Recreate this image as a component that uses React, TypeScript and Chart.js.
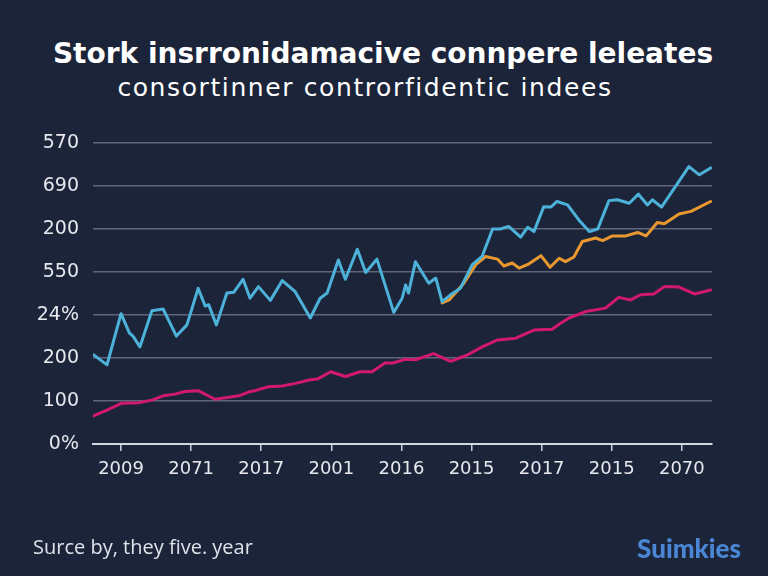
import React, { useEffect, useRef } from "react";
import { Chart, registerables } from "chart.js";

Chart.register(...registerables);

const titleLine1 = "Stork insrronidamacive connpere leleates";
const titleLine2 = "consortinner controrfidentic indees";
const sourceText = "Surce by, they five. year";
const brandText = "Suimkies";

const xLabels = ["2009", "2071", "2017", "2001", "2016", "2015", "2017", "2015", "2070"];
const yLabels = ["0%", "100", "200", "24%", "550", "200", "690", "570"];

// x positions are in tick-label units (0 = first label), y in gridline units
const blueX = [-0.39, -0.2, 0.0, 0.12, 0.17, 0.27, 0.44, 0.6, 0.79, 0.94, 1.1, 1.2, 1.25, 1.36, 1.51, 1.61, 1.74, 1.84, 1.96, 2.13, 2.3, 2.48, 2.7, 2.84, 2.94, 3.1, 3.2, 3.37, 3.49, 3.65, 3.89, 4.01, 4.06, 4.1, 4.2, 4.39, 4.49, 4.58, 4.7, 4.84, 5.01, 5.15, 5.3, 5.41, 5.53, 5.7, 5.8, 5.89, 6.03, 6.13, 6.22, 6.37, 6.53, 6.68, 6.8, 6.96, 7.08, 7.25, 7.38, 7.51, 7.58, 7.71, 7.91, 8.1, 8.25, 8.41];
const blueY = [2.07, 1.84, 3.03, 2.58, 2.51, 2.26, 3.1, 3.14, 2.51, 2.77, 3.62, 3.21, 3.24, 2.77, 3.51, 3.53, 3.83, 3.39, 3.66, 3.34, 3.8, 3.55, 2.93, 3.39, 3.51, 4.28, 3.83, 4.53, 3.99, 4.3, 3.06, 3.39, 3.7, 3.51, 4.24, 3.74, 3.86, 3.31, 3.47, 3.62, 4.17, 4.36, 5.0, 5.0, 5.06, 4.81, 5.04, 4.94, 5.52, 5.51, 5.64, 5.56, 5.21, 4.94, 5.0, 5.66, 5.68, 5.6, 5.81, 5.56, 5.68, 5.51, 5.99, 6.45, 6.26, 6.42];

const orangeX = [4.58, 4.68, 4.89, 5.06, 5.2, 5.37, 5.46, 5.58, 5.68, 5.82, 5.99, 6.12, 6.25, 6.34, 6.46, 6.58, 6.77, 6.87, 7.01, 7.2, 7.37, 7.49, 7.65, 7.75, 7.96, 8.13, 8.41];
const orangeY = [3.28, 3.35, 3.74, 4.17, 4.36, 4.3, 4.14, 4.21, 4.09, 4.19, 4.38, 4.11, 4.32, 4.24, 4.35, 4.71, 4.79, 4.73, 4.84, 4.84, 4.92, 4.84, 5.15, 5.12, 5.35, 5.41, 5.64];

const magentaX = [-0.4, -0.2, 0.01, 0.25, 0.44, 0.6, 0.77, 0.91, 1.1, 1.34, 1.51, 1.68, 1.84, 1.91, 2.1, 2.3, 2.49, 2.68, 2.8, 2.99, 3.2, 3.41, 3.58, 3.77, 3.87, 4.06, 4.2, 4.46, 4.7, 4.94, 5.15, 5.37, 5.63, 5.89, 6.15, 6.27, 6.39, 6.63, 6.91, 7.1, 7.27, 7.41, 7.6, 7.75, 7.96, 8.18, 8.41];
const magentaY = [0.65, 0.79, 0.95, 0.96, 1.02, 1.12, 1.16, 1.22, 1.24, 1.04, 1.08, 1.12, 1.22, 1.24, 1.33, 1.35, 1.41, 1.49, 1.51, 1.68, 1.57, 1.68, 1.68, 1.89, 1.88, 1.97, 1.96, 2.1, 1.92, 2.07, 2.26, 2.42, 2.46, 2.65, 2.67, 2.81, 2.93, 3.08, 3.16, 3.41, 3.35, 3.47, 3.49, 3.66, 3.65, 3.49, 3.58];

const toPoints = (xs: number[], ys: number[]) => xs.map((x, i) => ({ x, y: ys[i] }));

const BG = "#1c2439";
const FONT = "Lato, 'Open Sans', sans-serif";
const WIDE = "'DejaVu Sans', Lato, sans-serif";
const OPEN = "'Open Sans', Lato, sans-serif";

export default function App() {
  const canvasRef = useRef<HTMLCanvasElement | null>(null);

  useEffect(() => {
    document.body.style.margin = "0";
    document.body.style.background = BG;
    const canvas = canvasRef.current;
    if (!canvas) return;
    const chart = new Chart(canvas, {
      type: "line",
      data: {
        datasets: [
          {
            label: "blue",
            data: toPoints(blueX, blueY),
            borderColor: "#4cb2da",
            borderWidth: 3,
            pointRadius: 0,
            tension: 0,
            borderJoinStyle: "round",
            borderCapStyle: "round",
          },
          {
            label: "orange",
            data: toPoints(orangeX, orangeY),
            borderColor: "#e8982e",
            borderWidth: 3,
            pointRadius: 0,
            tension: 0,
            borderJoinStyle: "round",
            borderCapStyle: "round",
          },
          {
            label: "magenta",
            data: toPoints(magentaX, magentaY),
            borderColor: "#d1196e",
            borderWidth: 3,
            pointRadius: 0,
            tension: 0,
            borderJoinStyle: "round",
            borderCapStyle: "round",
          },
        ],
      },
      options: {
        animation: false,
        responsive: false,
        maintainAspectRatio: false,
        layout: { padding: { top: 143, right: 56, bottom: 0, left: 0 } },
        plugins: {
          legend: { display: false },
          tooltip: { enabled: false },
          title: { display: false },
        },
        scales: {
          x: {
            type: "linear",
            min: -0.4,
            max: 8.43,
            afterBuildTicks: (axis: any) => {
              axis.ticks = xLabels.map((_, i) => ({ value: i }));
            },
            afterFit: (scale: any) => {
              scale.height = 576 - 444;
            },
            ticks: {
              autoSkip: false,
              maxRotation: 0,
              color: "#e6e8ee",
              font: { family: WIDE, size: 18 },
              padding: 8,
              callback: (v: any) => xLabels[Math.round(Number(v))] ?? "",
            },
            grid: {
              drawOnChartArea: false,
              drawTicks: true,
              tickLength: 7,
              color: "#c9cdd6",
              lineWidth: 1.5,
            },
            border: { display: true, color: "#d4d8e0", width: 2 },
          },
          y: {
            type: "linear",
            min: 0,
            max: 7,
            afterBuildTicks: (axis: any) => {
              axis.ticks = yLabels.map((_, i) => ({ value: i }));
            },
            afterFit: (scale: any) => {
              scale.width = 93;
            },
            ticks: {
              color: "#e6e8ee",
              font: { family: WIDE, size: 19 },
              padding: 14,
              callback: (v: any) => yLabels[Math.round(Number(v))] ?? "",
            },
            grid: {
              drawTicks: false,
              color: "rgba(190,196,210,0.42)",
              lineWidth: 1.5,
            },
            border: { display: false },
          },
        },
      },
    });
    return () => chart.destroy();
  }, []);

  return (
    <div
      style={{
        position: "relative",
        width: 768,
        height: 576,
        background: BG,
        overflow: "hidden",
        fontFamily: FONT,
      }}
    >
      <div
        style={{
          position: "absolute",
          top: 36,
          left: 0,
          width: 766,
          textAlign: "center",
          color: "#ffffff",
          fontWeight: 700,
          fontSize: 28,
          lineHeight: "36px",
          fontFamily: WIDE,
          whiteSpace: "nowrap",
        }}
      >
        {titleLine1}
      </div>
      <div
        style={{
          position: "absolute",
          top: 70,
          left: 0,
          width: 730,
          textAlign: "center",
          color: "#ffffff",
          fontWeight: 400,
          fontSize: 25,
          letterSpacing: 1.6,
          lineHeight: "36px",
          fontFamily: WIDE,
          whiteSpace: "nowrap",
        }}
      >
        {titleLine2}
      </div>
      <canvas
        ref={canvasRef}
        width={768}
        height={576}
        style={{ position: "absolute", left: 0, top: 0, width: 768, height: 576 }}
      />
      <div
        style={{
          position: "absolute",
          left: 33,
          top: 535,
          color: "#dfe2ea",
          fontSize: 20,
          lineHeight: "24px",
          fontFamily: OPEN,
        }}
      >
        {sourceText}
      </div>
      <div
        style={{
          position: "absolute",
          right: 27,
          top: 533,
          color: "#4b86d4",
          fontSize: 26,
          fontWeight: 900,
          lineHeight: "30px",
        }}
      >
        {brandText}
      </div>
    </div>
  );
}
